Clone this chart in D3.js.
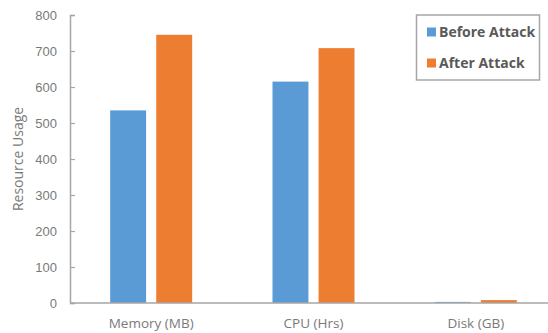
<!DOCTYPE html>
<html>
<head>
<meta charset="utf-8">
<script src="https://cdn.jsdelivr.net/npm/d3@7"></script>
<style>
  html, body { margin: 0; padding: 0; background: #fff; }
  svg { display: block; font-family: "Open Sans", "Noto Sans", sans-serif; }
</style>
</head>
<body>
<svg id="chart" width="548" height="333"></svg>
<script>
// Resource usage per category, before and after the attack
const categories = ["Memory (MB)", "CPU (Hrs)", "Disk (GB)"];
const seriesNames = ["Before Attack", "After Attack"];
const beforeAttack = [535, 615, 3];
const afterAttack = [745, 708, 8];
const yTicks = [0, 100, 200, 300, 400, 500, 600, 700, 800];
const colors = ["#5B9BD5", "#ED7D31"];

const svg = d3.select("#chart");
const margin = { left: 70, top: 15, bottom: 30 };
const plotRight = 557;

const x = d3.scaleBand()
  .domain(categories)
  .range([margin.left, plotRight])
  .paddingInner(0)
  .paddingOuter(0);

const y = d3.scaleLinear()
  .domain([0, 800])
  .range([303, margin.top]);

const xInner = d3.scaleBand()
  .domain(seriesNames)
  .range([0, 82])
  .paddingInner(0.22);

const textColor = "#595959";
const tickColor = "#7a7a7a";
const axisColor = "#a6a6a6";

// Y axis
const yAxis = svg.append("g")
  .attr("transform", `translate(${margin.left},0)`)
  .call(d3.axisRight(y).tickValues(yTicks).tickSize(5).tickFormat(d3.format("d")));
yAxis.select(".domain").attr("stroke", axisColor).attr("stroke-width", 1.5);
yAxis.selectAll(".tick line").attr("stroke", axisColor).attr("stroke-width", 1.2);
yAxis.selectAll(".tick text")
  .attr("x", -13)
  .attr("text-anchor", "end")
  .attr("fill", tickColor)
  .style("font-size", "13px");

// Bars
const rows = categories.map((c, i) => ({ cat: c, values: [beforeAttack[i], afterAttack[i]] }));
const groups = svg.append("g").selectAll("g")
  .data(rows)
  .join("g")
  .attr("transform", d => `translate(${x(d.cat) + (x.bandwidth() - 82) / 2},0)`);

groups.selectAll("rect")
  .data(d => d.values.map((v, j) => ({ name: seriesNames[j], value: v, j })))
  .join("rect")
  .attr("x", d => xInner(d.name))
  .attr("width", xInner.bandwidth())
  .attr("y", d => y(d.value))
  .attr("height", d => y(0) - y(d.value))
  .attr("fill", d => colors[d.j]);

// X axis baseline and category labels
svg.append("line")
  .attr("x1", margin.left).attr("x2", 548)
  .attr("y1", y(0)).attr("y2", y(0))
  .attr("stroke", axisColor).attr("stroke-width", 1.5);

svg.append("g").selectAll("text")
  .data(categories)
  .join("text")
  .attr("x", d => x(d) + x.bandwidth() / 2)
  .attr("y", 328)
  .attr("text-anchor", "middle")
  .attr("fill", tickColor)
  .style("font-size", "13.5px")
  .text(d => d);

// Y axis title
svg.append("text")
  .attr("transform", `translate(23,${(y(0) + y(800)) / 2}) rotate(-90)`)
  .attr("text-anchor", "middle")
  .attr("fill", tickColor)
  .style("font-size", "14px")
  .text("Resource Usage");

// Legend
const legend = svg.append("g");
legend.append("rect")
  .attr("x", 416.5).attr("y", 15)
  .attr("width", 123).attr("height", 65)
  .attr("fill", "#fff")
  .attr("stroke", "#a6a6a6")
  .attr("stroke-width", 1.5);

const items = legend.selectAll("g.item")
  .data(seriesNames)
  .join("g")
  .attr("class", "item")
  .attr("transform", (d, i) => `translate(427,${32 + i * 31})`);

items.append("rect")
  .attr("x", 0).attr("y", -4.5)
  .attr("width", 9).attr("height", 9)
  .attr("fill", (d, i) => colors[i]);

items.append("text")
  .attr("x", 12)
  .attr("y", 0)
  .attr("dy", "0.35em")
  .attr("fill", textColor)
  .style("font-size", "14px")
  .style("font-weight", "bold")
  .text(d => d);
</script>
</body>
</html>
